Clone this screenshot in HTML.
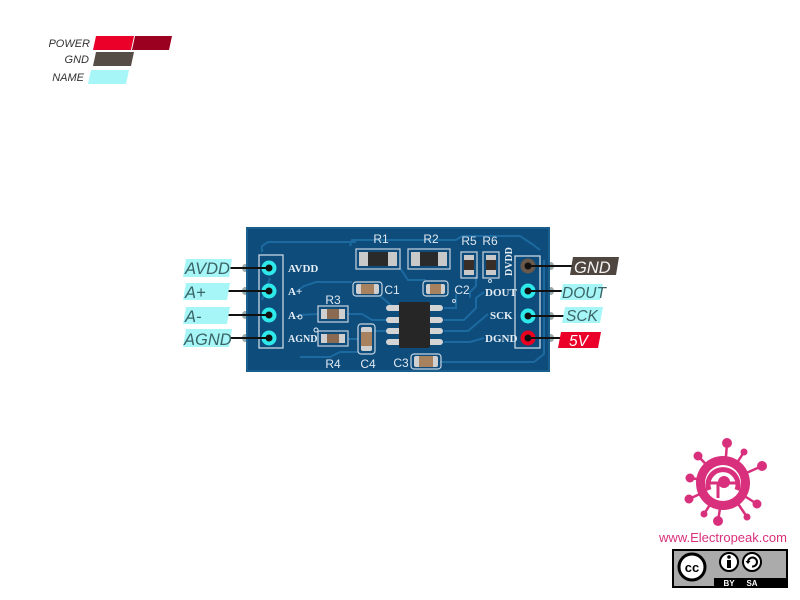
<!DOCTYPE html>
<html><head><meta charset="utf-8"><style>
html,body{margin:0;padding:0;background:#fff;}
svg{display:block;}
</style></head><body>
<svg width="800" height="600" viewBox="0 0 800 600" xmlns="http://www.w3.org/2000/svg">
<rect width="800" height="600" fill="#fff"/>
<!-- Legend -->
<g font-family="Liberation Sans, sans-serif" font-style="italic" font-size="11" fill="#333" text-anchor="end">
<text x="90" y="47">POWER</text>
<text x="89" y="63">GND</text>
<text x="84" y="81">NAME</text>
</g>
<polygon points="96,36 134,36 131,50 93,50" fill="#ea0029"/>
<polygon points="135,36 172,36 169,50 132,50" fill="#9b0020"/>
<polygon points="96,52 134,52 131,66 93,66" fill="#564d47"/>
<polygon points="91,70 129,70 126,84 88,84" fill="#a6f6f8"/>

<!-- Board -->
<g>
<ellipse cx="245" cy="268" rx="3" ry="4" fill="#9aa"/>
<ellipse cx="245" cy="291" rx="3" ry="4" fill="#9aa"/>
<ellipse cx="245" cy="315" rx="3" ry="4" fill="#9aa"/>
<ellipse cx="245" cy="338" rx="3" ry="4" fill="#9aa"/>
<ellipse cx="551" cy="266" rx="3" ry="4" fill="#9aa"/>
<ellipse cx="551" cy="291" rx="3" ry="4" fill="#9aa"/>
<ellipse cx="551" cy="316" rx="3" ry="4" fill="#9aa"/>
<ellipse cx="551" cy="338" rx="3" ry="4" fill="#9aa"/>
<rect x="246" y="227" width="304" height="145" fill="#0e4c7b"/>
<rect x="247" y="228" width="302" height="143" fill="none" stroke="#1a5e8e" stroke-width="2"/>
<!-- traces -->
<g fill="none" stroke="#1c6aa0" stroke-width="2">
<path d="M262,252 L262,246 L268,242 L356,242"/>
<path d="M350,246 L352,240 L456,240 L462,236 L520,236 L532,244 L540,250"/>
<path d="M296,292 L304,286 L316,282 L352,282"/>
<path d="M298,315 L318,314"/>
<path d="M348,314 L362,314 L372,320 L386,320"/>
<path d="M348,339 L358,339"/>
<path d="M374,331 L386,331"/>
<path d="M380,296 L392,306 L400,308"/>
<path d="M444,308 L456,308 L456,294"/>
<path d="M444,320 L464,320 L476,308 L476,298 L484,292"/>
<path d="M444,331 L468,331 L488,314"/>
<path d="M444,342 L470,342 L484,338"/>
<path d="M440,362 L534,362 L544,354 L544,260"/>
<path d="M300,357 L330,357 L340,352 L358,352"/>
<path d="M262,300 L270,278"/>
<path d="M400,268 L408,280 L426,280"/>
<path d="M476,276 L476,286 L470,292 L470,298"/>
</g>
<!-- headers -->
<rect x="259" y="255" width="24" height="93" fill="none" stroke="#c8d6e2" stroke-width="1.3"/>
<rect x="515" y="256" width="25" height="92" fill="none" stroke="#c8d6e2" stroke-width="1.3"/>
<!-- left pads -->
<g fill="#111" stroke="#2ee8ea" stroke-width="4">
<circle cx="269" cy="268" r="5.5"/>
<circle cx="269" cy="291" r="5.5"/>
<circle cx="269" cy="315" r="5.5"/>
<circle cx="269" cy="338" r="5.5"/>
</g>
<circle cx="528" cy="266" r="5.5" fill="#111" stroke="#6a584a" stroke-width="4"/>
<circle cx="528" cy="291" r="5.5" fill="#111" stroke="#2ee8ea" stroke-width="4"/>
<circle cx="528" cy="316" r="5.5" fill="#111" stroke="#2ee8ea" stroke-width="4"/>
<circle cx="528" cy="338" r="5.5" fill="#111" stroke="#ea0020" stroke-width="4"/>
<!-- board text serif -->
<g font-family="Liberation Serif, serif" font-weight="bold" font-size="11" fill="#e6eef5">
<text x="288" y="272">AVDD</text>
<text x="288" y="295">A+</text>
<text x="288" y="319">A-</text>
<text x="288" y="342" font-size="10">AGND</text>
<text x="485" y="296">DOUT</text>
<text x="490" y="319">SCK</text>
<text x="485" y="342">DGND</text>
<text transform="translate(512,276) rotate(-90)" font-size="10">DVDD</text>
</g>
<circle cx="300" cy="317" r="2" fill="none" stroke="#e6eef5"/>
<circle cx="316" cy="330" r="2" fill="none" stroke="#e6eef5"/>
<circle cx="454" cy="301" r="1.5" fill="none" stroke="#c8d6e2"/>
<circle cx="490" cy="281" r="1.5" fill="none" stroke="#c8d6e2"/>
<!-- component labels -->
<g font-family="Liberation Sans, sans-serif" font-size="12" fill="#dfe8f0" text-anchor="middle">
<text x="381" y="243">R1</text>
<text x="431" y="243">R2</text>
<text x="469" y="245">R5</text>
<text x="490" y="245">R6</text>
<text x="392" y="294">C1</text>
<text x="462" y="294">C2</text>
<text x="333" y="304">R3</text>
<text x="333" y="368">R4</text>
<text x="368" y="368">C4</text>
<text x="401" y="367">C3</text>
</g>
<!-- silkscreen outlines -->
<g fill="none" stroke="#c8d6e2" stroke-width="1.2">
<rect x="356" y="249" width="44" height="20"/>
<rect x="408" y="249" width="42" height="20"/>
<rect x="461" y="252" width="16" height="26"/>
<rect x="483" y="252" width="16" height="26"/>
<rect x="353" y="282" width="29" height="14" rx="3"/>
<rect x="423" y="281" width="25" height="15" rx="3"/>
<rect x="318" y="306" width="30" height="16"/>
<rect x="318" y="331" width="30" height="15"/>
<rect x="358" y="324" width="17" height="30" rx="3"/>
<rect x="411" y="354" width="30" height="15" rx="3"/>
</g>
<!-- resistors -->
<rect x="359" y="252" width="38" height="14" fill="#c9c9c9"/>
<rect x="368" y="252" width="20" height="14" fill="#2a2a2a"/>
<rect x="411" y="252" width="36" height="14" fill="#c9c9c9"/>
<rect x="420" y="252" width="18" height="14" fill="#2a2a2a"/>
<rect x="464" y="255" width="10" height="20" fill="#c9c9c9"/>
<rect x="464" y="260" width="10" height="10" fill="#3a2e28"/>
<rect x="486" y="255" width="10" height="20" fill="#c9c9c9"/>
<rect x="486" y="260" width="10" height="10" fill="#3a2e28"/>
<rect x="321" y="309" width="24" height="10" fill="#cfcfcf"/>
<rect x="327" y="309" width="12" height="10" fill="#8a6a50"/>
<rect x="321" y="334" width="24" height="9" fill="#cfcfcf"/>
<rect x="327" y="334" width="12" height="9" fill="#8a6a50"/>
<!-- caps -->
<rect x="356" y="284" width="23" height="10" rx="2" fill="#d0d0d0"/>
<rect x="361" y="284" width="13" height="10" fill="#a8825e"/>
<rect x="426" y="284" width="19" height="10" rx="2" fill="#d0d0d0"/>
<rect x="430" y="284" width="11" height="10" fill="#a8825e"/>
<rect x="361" y="327" width="11" height="24" rx="2" fill="#d0d0d0"/>
<rect x="361" y="332" width="11" height="14" fill="#a8825e"/>
<rect x="414" y="356" width="24" height="11" rx="2" fill="#d0d0d0"/>
<rect x="419" y="356" width="14" height="11" fill="#a8825e"/>
<!-- chip -->
<g fill="#d4d4d4">
<rect x="386" y="305" width="16" height="6" rx="3"/>
<rect x="386" y="317" width="16" height="6" rx="3"/>
<rect x="386" y="328" width="16" height="6" rx="3"/>
<rect x="386" y="339" width="16" height="6" rx="3"/>
<rect x="427" y="305" width="16" height="6" rx="3"/>
<rect x="427" y="317" width="16" height="6" rx="3"/>
<rect x="427" y="328" width="16" height="6" rx="3"/>
<rect x="427" y="339" width="16" height="6" rx="3"/>
</g>
<rect x="399" y="302" width="31" height="46" rx="2" fill="#262626"/>
</g>

<!-- connector lines -->
<g stroke="#111" stroke-width="2">
<line x1="228" y1="268" x2="266" y2="268"/>
<line x1="226" y1="291" x2="266" y2="291"/>
<line x1="226" y1="315" x2="266" y2="315"/>
<line x1="228" y1="338" x2="266" y2="338"/>
<line x1="531" y1="266" x2="574" y2="266"/>
<line x1="531" y1="291" x2="564" y2="291"/>
<line x1="531" y1="316" x2="566" y2="316"/>
<line x1="531" y1="338" x2="562" y2="338"/>
</g>
<!-- labels -->
<polygon points="186,259 232,259 229,277 183,277" fill="#a6f6f8"/>
<polygon points="186,283 230,283 227,300 183,300" fill="#a6f6f8"/>
<polygon points="186,307 230,307 227,324 183,324" fill="#a6f6f8"/>
<polygon points="186,329 232,329 229,347 183,347" fill="#a6f6f8"/>
<polygon points="573,257 619,257 616,275 570,275" fill="#4f4640"/>
<polygon points="563,284 603,284 600,300 560,300" fill="#a6f6f8"/>
<polygon points="565,307 603,307 600,323 562,323" fill="#a6f6f8"/>
<polygon points="561,332 601,332 598,348 558,348" fill="#ea0029"/>
<g font-family="Liberation Sans, sans-serif" font-style="italic" font-size="16.5" fill="#3a6466">
<text x="185" y="274">AVDD</text>
<text x="185" y="298">A+</text>
<text x="185" y="322">A-</text>
<text x="184" y="345">AGND</text>
<text x="562" y="298" font-size="15.5">DOUT</text>
<text x="566" y="321" font-size="15.5">SCK</text>
</g>
<text x="574" y="273" font-family="Liberation Sans, sans-serif" font-style="italic" font-size="16.5" fill="#f2f2f2">GND</text>
<text x="569" y="346" font-family="Liberation Sans, sans-serif" font-style="italic" font-size="15.5" fill="#fff">5V</text>

<!-- Logo -->
<g fill="#d8307c" stroke="#d8307c">
<g stroke-width="2.5">
<line x1="724" y1="483" x2="727" y2="443"/>
<line x1="724" y1="483" x2="698" y2="456"/>
<line x1="724" y1="483" x2="762" y2="466"/>
<line x1="724" y1="483" x2="690" y2="478"/>
<line x1="724" y1="483" x2="689" y2="499"/>
<line x1="724" y1="483" x2="757" y2="504"/>
<line x1="724" y1="483" x2="718" y2="521"/>
<line x1="724" y1="483" x2="744" y2="452"/>
<line x1="724" y1="483" x2="704" y2="514"/>
<line x1="724" y1="483" x2="747" y2="517"/>
</g>
<g stroke="none">
<circle cx="727" cy="443" r="5"/>
<circle cx="698" cy="456" r="4.5"/>
<circle cx="762" cy="466" r="5"/>
<circle cx="690" cy="478" r="4.5"/>
<circle cx="689" cy="499" r="4.5"/>
<circle cx="757" cy="504" r="4.5"/>
<circle cx="718" cy="521" r="5"/>
<circle cx="744" cy="452" r="3.5"/>
<circle cx="704" cy="514" r="3.5"/>
<circle cx="747" cy="517" r="3.5"/>
</g>
<circle cx="723" cy="483" r="27" stroke="none"/>
<circle cx="723" cy="483" r="18" fill="#fff" stroke="none"/>
<path d="M709,490 A15,15 0 1 1 737,490" fill="none" stroke-width="5"/>
<line x1="707" y1="483" x2="736" y2="483" stroke-width="3"/>
<circle cx="724" cy="482" r="6" stroke="none"/>
<line x1="718" y1="483" x2="718" y2="498" stroke-width="3"/>
</g>
<text x="723" y="542" font-family="Liberation Sans, sans-serif" font-size="13" fill="#d8307c" text-anchor="middle">www.Electropeak.com</text>
<!-- CC badge -->
<rect x="673" y="550" width="114" height="37" fill="#ababab" stroke="#000" stroke-width="2"/>
<rect x="714" y="578" width="73" height="9" fill="#000"/>
<circle cx="692" cy="567" r="13" fill="#fff" stroke="#000" stroke-width="3"/>
<text x="692" y="572" font-family="Liberation Sans, sans-serif" font-weight="bold" font-size="13" text-anchor="middle" fill="#000">cc</text>
<circle cx="729" cy="562" r="9" fill="#fff" stroke="#000" stroke-width="2"/>
<circle cx="729" cy="557" r="1.8" fill="#000"/>
<rect x="727" y="560" width="4" height="8" fill="#000"/>
<circle cx="752" cy="562" r="9" fill="#fff" stroke="#000" stroke-width="2"/>
<path d="M748,562 A4.5,4.5 0 1 1 752,566.5" fill="none" stroke="#000" stroke-width="2"/>
<polygon points="745.5,561 750.5,561 748,564" fill="#000"/>
<text x="729" y="586" font-family="Liberation Sans, sans-serif" font-weight="bold" font-size="8" text-anchor="middle" fill="#fff">BY</text>
<text x="752" y="586" font-family="Liberation Sans, sans-serif" font-weight="bold" font-size="8" text-anchor="middle" fill="#fff">SA</text>
</svg>
</body></html>
